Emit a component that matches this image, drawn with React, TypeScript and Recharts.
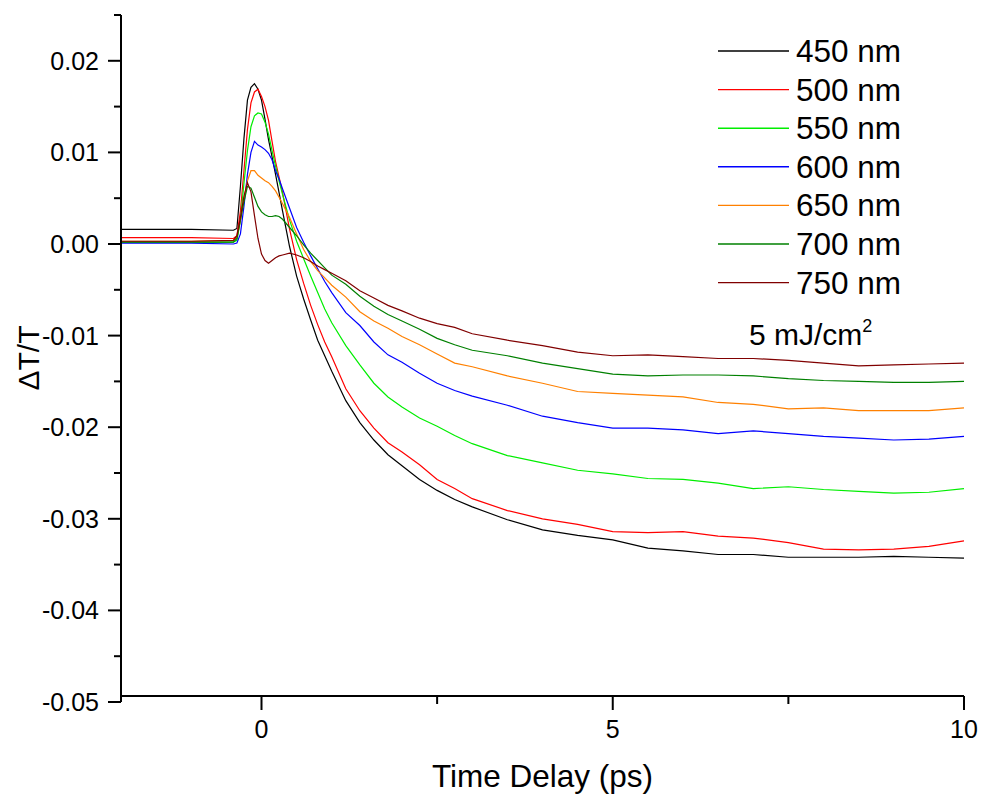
import React from "react";
import { LineChart, Line, XAxis, YAxis, Legend } from "recharts";

// time delay (ps)
const TIMES = [
  -2, -1, -0.4, -0.35, -0.3, -0.25, -0.2, -0.15, -0.1, -0.05, 0, 0.05, 0.1, 0.15, 0.2, 0.25, 0.3,
  0.4, 0.5, 0.6, 0.7, 0.8, 0.9, 1.0, 1.2, 1.4, 1.6, 1.8, 2.0, 2.25, 2.5, 2.75, 3.0, 3.5, 4.0, 4.5,
  5.0, 5.5, 6.0, 6.5, 7.0, 7.5, 8.0, 8.5, 9.0, 9.5, 10,
];

// dT/T for each probe wavelength
const NM450 = [
  0.0016, 0.0016, 0.0015, 0.0017, 0.0063, 0.0115, 0.0157, 0.0171, 0.0175, 0.0169, 0.0157, 0.0136,
  0.0114, 0.0095, 0.0076, 0.0056, 0.0036, -0.0003, -0.0035, -0.006, -0.0083, -0.0105, -0.0122,
  -0.0139, -0.0171, -0.0195, -0.0214, -0.023, -0.0242, -0.0257, -0.0269, -0.0279, -0.0287,
  -0.0301, -0.0312, -0.0318, -0.0323, -0.0332, -0.0335, -0.0339, -0.0339, -0.0342, -0.0342,
  -0.0342, -0.0341, -0.0342, -0.0343,
];
const NM500 = [
  0.0007, 0.0007, 0.0006, 0.0009, 0.0036, 0.008, 0.0125, 0.0154, 0.0166, 0.0169, 0.0161, 0.015,
  0.0135, 0.0112, 0.009, 0.0073, 0.0056, 0.0016, -0.0017, -0.0043, -0.0067, -0.0088, -0.0107,
  -0.0123, -0.0158, -0.0182, -0.0201, -0.0217, -0.0227, -0.0241, -0.0257, -0.0267, -0.0278,
  -0.0291, -0.03, -0.0306, -0.0314, -0.0315, -0.0314, -0.0319, -0.0321, -0.0326, -0.0333,
  -0.0334, -0.0333, -0.033, -0.0324,
];
const NM550 = [
  0.0002, 0.0002, 0.0002, 0.0004, 0.0026, 0.0066, 0.0102, 0.0128, 0.014, 0.0143, 0.0142, 0.0133,
  0.012, 0.0102, 0.0085, 0.0069, 0.0054, 0.0026, 0.0003, -0.0016, -0.0035, -0.0053, -0.0071,
  -0.0086, -0.0111, -0.0132, -0.0152, -0.0167, -0.0178, -0.019, -0.0199, -0.0209, -0.0218,
  -0.0231, -0.0239, -0.0247, -0.0251, -0.0256, -0.0257, -0.0261, -0.0267, -0.0265, -0.0268,
  -0.027, -0.0272, -0.0271, -0.0267,
];
const NM600 = [
  0.0001, 0.0001, 0.0, 0.0001, 0.0011, 0.0041, 0.0076, 0.01, 0.0112, 0.0108, 0.0106, 0.0103,
  0.0099, 0.0092, 0.008, 0.0071, 0.006, 0.0039, 0.0018, 0.0002, -0.0013, -0.0027, -0.0041,
  -0.0053, -0.0075, -0.0089, -0.0107, -0.0121, -0.0129, -0.0141, -0.0152, -0.016, -0.0166,
  -0.0176, -0.0188, -0.0195, -0.0201, -0.0201, -0.0203, -0.0207, -0.0204, -0.0207, -0.021,
  -0.0212, -0.0214, -0.0213, -0.021,
];
const NM650 = [
  0.0003, 0.0003, 0.0004, 0.0007, 0.0026, 0.0049, 0.0069, 0.008, 0.008, 0.0075, 0.0072, 0.0069,
  0.0067, 0.0063, 0.0058, 0.0051, 0.0044, 0.0029, 0.0011, -0.0006, -0.0019, -0.0029, -0.0037,
  -0.0045, -0.0058, -0.0074, -0.0084, -0.0092, -0.0101, -0.011, -0.012, -0.013, -0.0134, -0.0144,
  -0.0152, -0.0161, -0.0163, -0.0165, -0.0167, -0.0173, -0.0175, -0.018, -0.0179, -0.0182,
  -0.0182, -0.0182, -0.0179,
];
const NM700 = [
  0.0002, 0.0002, 0.0002, 0.0006, 0.0026, 0.0046, 0.0063, 0.0061, 0.0051, 0.0041, 0.0035, 0.0032,
  0.003, 0.003, 0.0031, 0.003, 0.0027, 0.0018, 0.0009, -0.0001, -0.001, -0.0018, -0.0026, -0.0034,
  -0.0044, -0.0057, -0.0068, -0.0077, -0.0084, -0.0093, -0.0103, -0.011, -0.0116, -0.0122,
  -0.013, -0.0136, -0.0142, -0.0144, -0.0143, -0.0143, -0.0144, -0.0147, -0.0149, -0.015, -0.0151,
  -0.0151, -0.015,
];
const NM750 = [
  0.0003, 0.0003, 0.0004, 0.0009, 0.0029, 0.0052, 0.0067, 0.0057, 0.0031, 0.0006, -0.0011,
  -0.0018, -0.0021, -0.0018, -0.0015, -0.0013, -0.0012, -0.001, -0.0012, -0.0015, -0.0019,
  -0.0024, -0.0028, -0.0032, -0.004, -0.0051, -0.0059, -0.0067, -0.0073, -0.0081, -0.0087,
  -0.0091, -0.0098, -0.0105, -0.0111, -0.0118, -0.0122, -0.0121, -0.0123, -0.0125, -0.0125,
  -0.0127, -0.013, -0.0133, -0.0132, -0.0131, -0.013,
];

const SERIES = [
  { key: "s450", name: "450 nm", color: "#000000", values: NM450 },
  { key: "s500", name: "500 nm", color: "#ff0000", values: NM500 },
  { key: "s550", name: "550 nm", color: "#00ee00", values: NM550 },
  { key: "s600", name: "600 nm", color: "#0000ff", values: NM600 },
  { key: "s650", name: "650 nm", color: "#ff8000", values: NM650 },
  { key: "s700", name: "700 nm", color: "#008000", values: NM700 },
  { key: "s750", name: "750 nm", color: "#800000", values: NM750 },
];

const X_TICKS = [0, 2.5, 5, 7.5, 10];
const Y_TICKS = [
  -0.05, -0.045, -0.04, -0.035, -0.03, -0.025, -0.02, -0.015, -0.01, -0.005, 0, 0.005, 0.01,
  0.015, 0.02, 0.025,
];

const data = TIMES.map((t, i) => {
  const row: any = { t };
  SERIES.forEach((s) => (row[s.key] = s.values[i]));
  return row;
});

const FONT = "'Liberation Sans', Arial, sans-serif";
const isMajorX = (v: number) => Math.abs(v / 5 - Math.round(v / 5)) < 1e-6;
const isMajorY = (v: number) => Math.abs(v * 100 - Math.round(v * 100)) < 1e-6;

// bottom axis sits 6px above the end of the y axis, like in the original plot
const BOTTOM_SHIFT = -6;

const BottomTick = ({ x, y, payload }: any) => {
  const major = isMajorX(payload.value);
  const y0 = y + BOTTOM_SHIFT;
  return (
    <g>
      <line x1={x} x2={x} y1={y0} y2={y0 + (major ? 14 : 8)} stroke="#000" strokeWidth={2} />
      {major && (
        <text x={x} y={y0 + 42} textAnchor="middle" fontSize={25} fontFamily={FONT} fill="#000">
          {payload.value}
        </text>
      )}
    </g>
  );
};

const TopTick = ({ x, y, payload }: any) => {
  const major = isMajorX(payload.value);
  return <line x1={x} x2={x} y1={y} y2={y + (major ? 14 : 7)} stroke="#000" strokeWidth={2} />;
};

const LeftTick = ({ x, y, payload }: any) => {
  const major = isMajorY(payload.value);
  return (
    <g>
      <line x1={x - (major ? 13 : 7)} x2={x} y1={y} y2={y} stroke="#000" strokeWidth={2} />
      {major && (
        <text x={x - 22} y={y + 9} textAnchor="end" fontSize={25} fontFamily={FONT} fill="#000">
          {payload.value.toFixed(2)}
        </text>
      )}
    </g>
  );
};

const RightTick = ({ x, y }: any) => (
  <line x1={x - 3} x2={x} y1={y} y2={y} stroke="#000" strokeWidth={1.5} />
);

const LegendBox = ({ payload }: any) => (
  <svg width={220} height={340} style={{ overflow: "visible" }}>
    {(payload || []).map((p: any, i: number) => (
      <g key={p.value} transform={`translate(0, ${i * 38.6})`}>
        <line x1={0} x2={71} y1={0} y2={0} stroke={p.color} strokeWidth={1.4} />
        <text x={78} y={11} fontSize={31.5} fontFamily={FONT} fill="#000">
          {p.value}
        </text>
      </g>
    ))}
    <text x={31} y={294} fontSize={30} fontFamily={FONT} fill="#000">
      5 mJ/cm
      <tspan fontSize={18} dy={-13}>
        2
      </tspan>
    </text>
  </svg>
);

export default function App() {
  return (
    <div style={{ position: "absolute", left: 0, top: 0, background: "#fff" }}>
      <LineChart
        width={981}
        height={796}
        data={data}
        margin={{ top: 15, right: 17, bottom: 0, left: 0 }}
      >
        <XAxis
          dataKey="t"
          type="number"
          domain={[-2, 10]}
          ticks={X_TICKS}
          interval={0}
          height={94}
          tickSize={0}
          tickMargin={0}
          tickLine={false}
          tick={<BottomTick />}
          axisLine={{ stroke: "#000", strokeWidth: 2, transform: `translate(0, ${BOTTOM_SHIFT})` }}
          label={{
            value: "Time Delay (ps)",
            position: "insideBottom",
            offset: 9,
            fontSize: 31.5,
            fontFamily: FONT,
            fill: "#000",
          }}
        />
        <XAxis
          xAxisId="top"
          orientation="top"
          dataKey="t"
          type="number"
          domain={[-2, 10]}
          ticks={X_TICKS}
          interval={0}
          height={0}
          tickSize={0}
          tickMargin={0}
          tickLine={false}
          tick={<TopTick />}
          axisLine={{ stroke: "#000", strokeWidth: 2 }}
        />
        <YAxis
          type="number"
          domain={[-0.05, 0.025]}
          ticks={Y_TICKS}
          interval={0}
          width={121}
          tickSize={0}
          tickMargin={0}
          tickLine={false}
          tick={<LeftTick />}
          axisLine={{ stroke: "#000", strokeWidth: 2 }}
          label={{
            content: () => (
              <text
                transform="translate(39, 358) rotate(-90)"
                textAnchor="middle"
                fontSize={30}
                fontFamily={FONT}
                fill="#000"
              >
                ΔT/T
              </text>
            ),
          }}
        />
        <YAxis
          yAxisId="right"
          orientation="right"
          type="number"
          domain={[-0.05, 0.025]}
          ticks={Y_TICKS}
          interval={0}
          width={0}
          tickSize={0}
          tickMargin={0}
          tickLine={false}
          tick={<RightTick />}
          axisLine={{ stroke: "#000", strokeWidth: 2 }}
        />
        <Legend
          layout="vertical"
          align="center"
          verticalAlign="middle"
          content={<LegendBox />}
          wrapperStyle={{ left: 718, top: 51, width: 230, height: 340 }}
        />
        {SERIES.map((s) => (
          <Line
            key={s.key}
            dataKey={s.key}
            name={s.name}
            stroke={s.color}
            strokeWidth={1.2}
            dot={false}
            type="linear"
            isAnimationActive={false}
          />
        ))}
      </LineChart>
    </div>
  );
}
